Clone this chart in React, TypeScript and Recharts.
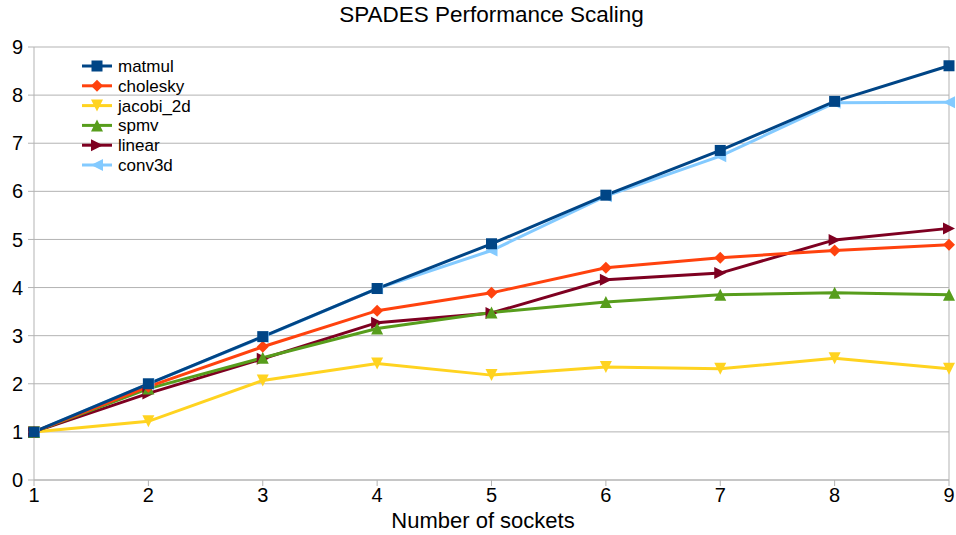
import React from "react";
import { LineChart, Line, XAxis, YAxis, CartesianGrid, ReferenceLine } from "recharts";

const sockets = [1, 2, 3, 4, 5, 6, 7, 8, 9];
const matmul = [1.0, 2.0, 2.98, 3.98, 4.91, 5.92, 6.85, 7.87, 8.61];
const cholesky = [1.0, 1.94, 2.77, 3.52, 3.89, 4.41, 4.62, 4.77, 4.89];
const jacobi2d = [1.0, 1.22, 2.07, 2.42, 2.18, 2.35, 2.31, 2.53, 2.31];
const spmv = [1.0, 1.9, 2.54, 3.15, 3.48, 3.7, 3.85, 3.89, 3.85];
const linear = [1.0, 1.8, 2.52, 3.27, 3.47, 4.16, 4.3, 4.99, 5.23];
const conv3d = [1.0, 2.0, 2.97, 3.98, 4.77, 5.9, 6.73, 7.84, 7.85];
const yTicks = [0, 1, 2, 3, 4, 5, 6, 7, 8, 9];

const data = sockets.map((s, i) => ({
  x: s,
  matmul: matmul[i],
  cholesky: cholesky[i],
  jacobi_2d: jacobi2d[i],
  spmv: spmv[i],
  linear: linear[i],
  conv3d: conv3d[i],
}));

type Shape = "square" | "diamond" | "down" | "up" | "right" | "left";

const series: { key: string; color: string; shape: Shape }[] = [
  { key: "matmul", color: "#004586", shape: "square" },
  { key: "cholesky", color: "#ff420e", shape: "diamond" },
  { key: "jacobi_2d", color: "#ffd320", shape: "down" },
  { key: "spmv", color: "#579d1c", shape: "up" },
  { key: "linear", color: "#7e0021", shape: "right" },
  { key: "conv3d", color: "#83caff", shape: "left" },
];

function marker(shape: Shape, cx: number, cy: number, color: string, k?: any) {
  const r = 6;
  switch (shape) {
    case "square":
      return <rect key={k} x={cx - 5.5} y={cy - 5.5} width={11} height={11} fill={color} />;
    case "diamond":
      return <polygon key={k} points={`${cx},${cy - r} ${cx + r},${cy} ${cx},${cy + r} ${cx - r},${cy}`} fill={color} />;
    case "down":
      return <polygon key={k} points={`${cx - r},${cy - r} ${cx + r},${cy - r} ${cx},${cy + r}`} fill={color} />;
    case "up":
      return <polygon key={k} points={`${cx - r},${cy + r} ${cx + r},${cy + r} ${cx},${cy - r}`} fill={color} />;
    case "right":
      return <polygon key={k} points={`${cx - r},${cy - r} ${cx - r},${cy + r} ${cx + r},${cy}`} fill={color} />;
    case "left":
      return <polygon key={k} points={`${cx + r},${cy - r} ${cx + r},${cy + r} ${cx - r},${cy}`} fill={color} />;
  }
  return null;
}

const makeDot = (shape: Shape, color: string) => (props: any) => {
  const { cx, cy, index } = props;
  if (cx == null || cy == null) return <g key={index} />;
  return marker(shape, cx, cy, color, index);
};

const font = "Liberation Sans, Arial, sans-serif";

const LegendBox = () => (
  <svg width={130} height={125} style={{ position: "absolute", left: 80, top: 56 }}>
    {series.map((s, i) => {
      const y = 10 + i * 19.8;
      return (
        <g key={s.key}>
          <line x1={2} x2={32} y1={y} y2={y} stroke={s.color} strokeWidth={3} />
          {marker(s.shape, 17, y, s.color)}
          <text x={38} y={y + 6} fontSize={17} fill="#000" fontFamily={font}>
            {s.key}
          </text>
        </g>
      );
    })}
  </svg>
);

const drawOrder = ["conv3d", "linear", "jacobi_2d", "spmv", "cholesky", "matmul"];

export default function App() {
  return (
    <div style={{ position: "absolute", left: 0, top: 0, width: 956, height: 535, background: "#fff", fontFamily: font }}>
      <div
        style={{
          position: "absolute",
          left: 34,
          width: 915,
          top: 2,
          textAlign: "center",
          fontSize: 22.5,
          color: "#000",
          fontFamily: font,
        }}
      >
        SPADES Performance Scaling
      </div>
      <LineChart width={956} height={535} data={data} margin={{ top: 47, right: 7, bottom: 0, left: 0 }}>
        <CartesianGrid vertical={false} stroke="#b3b3b3" strokeWidth={1} />
        <XAxis
          dataKey="x"
          type="number"
          domain={[1, 9]}
          ticks={sockets}
          height={55}
          stroke="#b3b3b3"
          tickSize={6}
          tickMargin={2}
          tick={{ fill: "#000", fontSize: 20, fontFamily: font }}
        />
        <YAxis
          type="number"
          domain={[0, 9]}
          ticks={yTicks}
          width={34}
          stroke="#b3b3b3"
          tickSize={6}
          tickMargin={5}
          interval={0}
          tick={{ fill: "#000", fontSize: 20, fontFamily: font }}
        />
        <ReferenceLine x={9} stroke="#b3b3b3" strokeWidth={1} />
        {drawOrder.map((k) => {
          const s = series.find((q) => q.key === k)!;
          return (
            <Line
              key={k}
              dataKey={k}
              type="linear"
              stroke={s.color}
              strokeWidth={3}
              dot={makeDot(s.shape, s.color)}
              activeDot={false}
              isAnimationActive={false}
            />
          );
        })}
      </LineChart>
      <div
        style={{
          position: "absolute",
          left: 283,
          width: 400,
          top: 508,
          textAlign: "center",
          fontSize: 22,
          lineHeight: "25px",
          color: "#000",
          fontFamily: font,
        }}
      >
        Number of sockets
      </div>
      <LegendBox />
    </div>
  );
}
